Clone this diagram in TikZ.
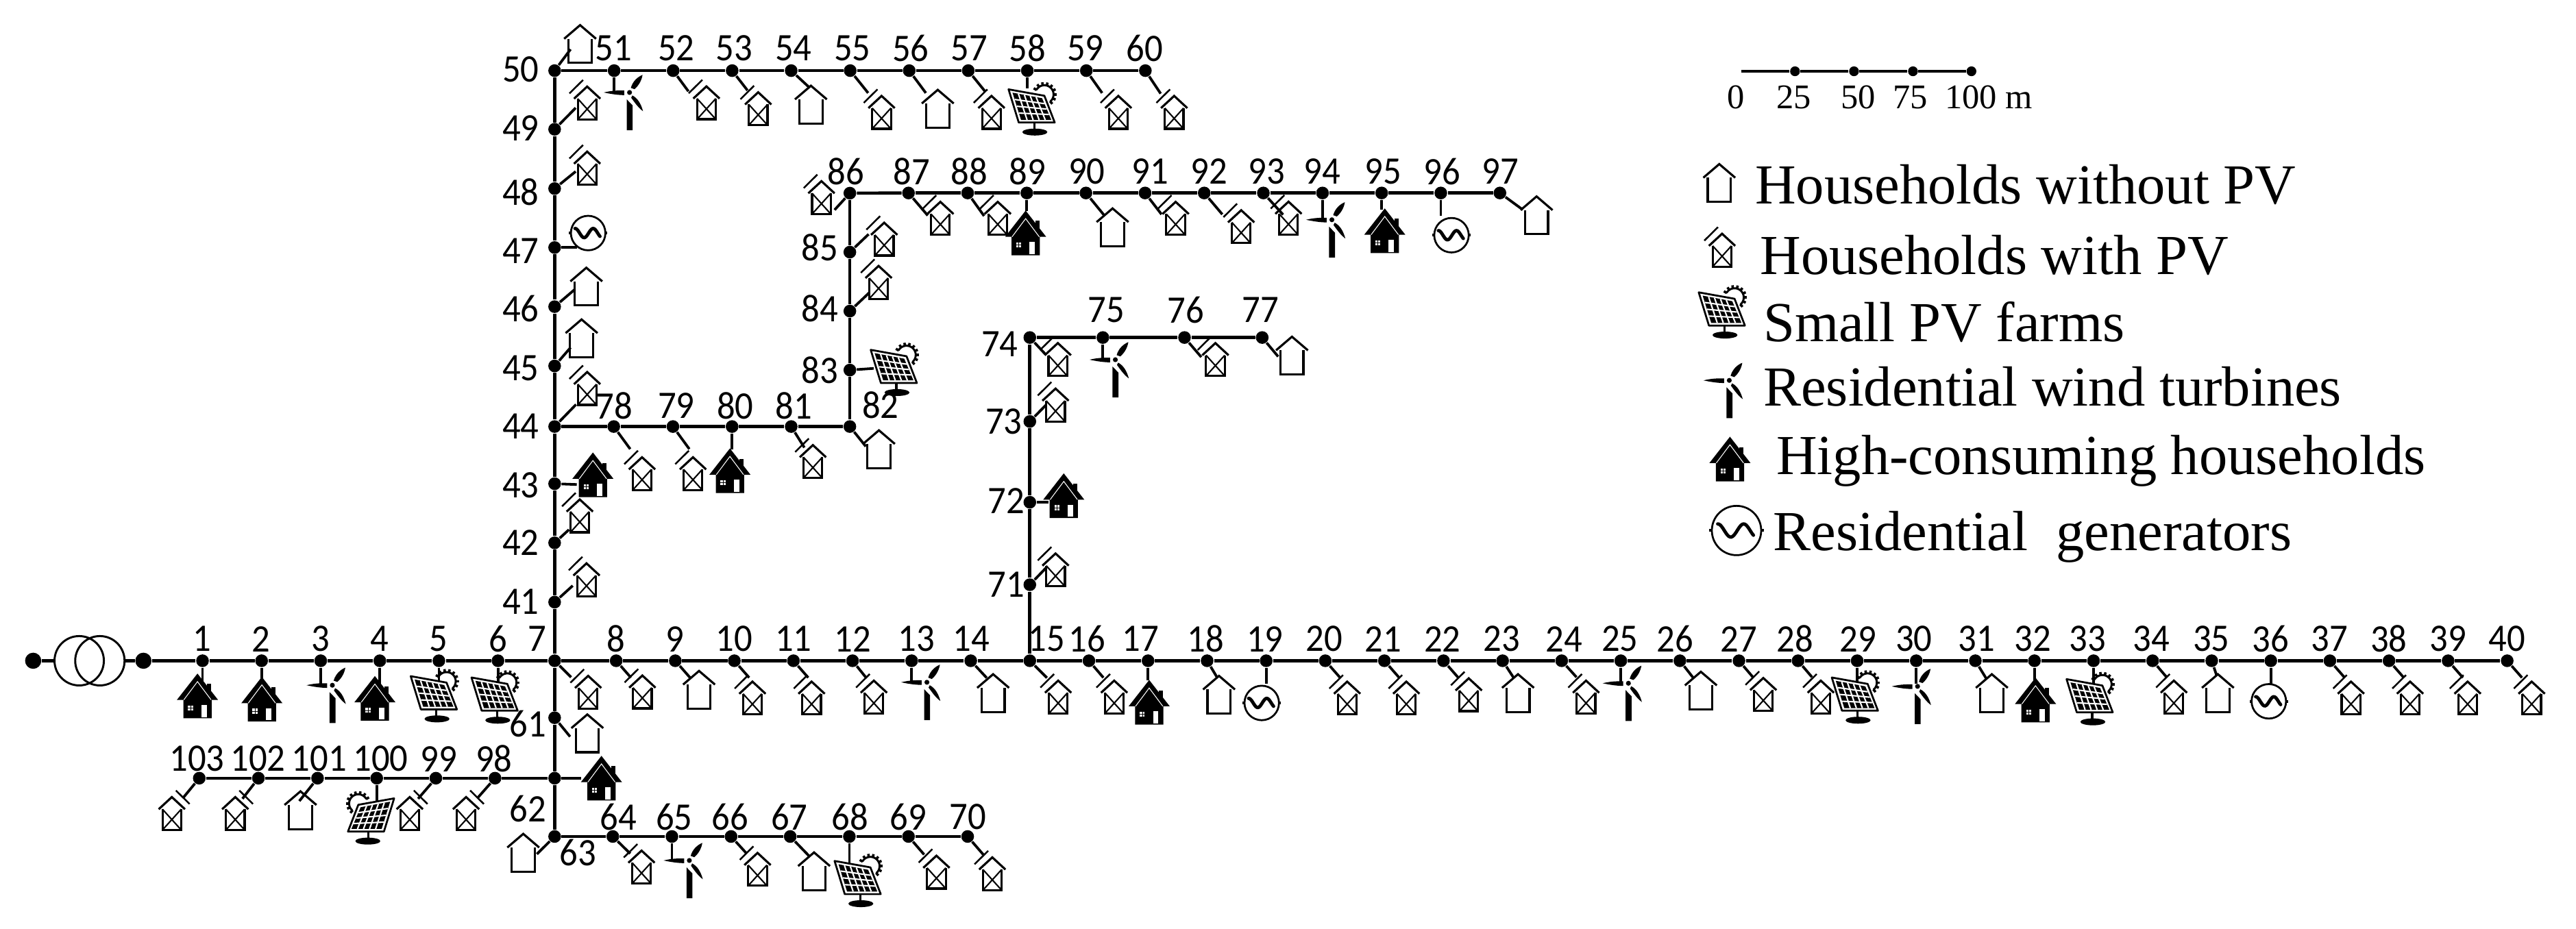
\documentclass[tikz,border=0pt]{standalone}
\usepackage{fontspec}
\usepackage{tikz}
\usetikzlibrary{calc}
\setmainfont{Liberation Serif}
\newfontfamily\busfont{Carlito}
\tikzset{
    homeline/.style={line width=.75pt,line join=miter},
    nopvhome/.pic={
        \draw[homeline] (-9.7,-3.2) -- (0,-11.5) -- (9.7,-3.2);
        \draw[homeline] (-7,-3.2) -- (-7,11.5) -- (7,11.5) -- (7,-3.2);
    },
    pvhome/.pic={
        \draw[homeline] (-8,-2.6) -- (0,-10) -- (8,-2.6);
        \draw[homeline] (-5.7,-2.6) -- (-5.7,10) -- (5.7,10) -- (5.7,-2.6);
        \draw[line width=.5pt] (-5.7,-2.6) -- (5.7,10) (5.7,-2.6) -- (-5.7,10);
        \draw[line width=.6pt] (-10.8,-5.8) -- (-2.5,-14);
    },
    pvhomemir/.pic={\pic[xscale=-1] {pvhome};},
    highhome/.pic={
        \fill (5.8,-7.3) rectangle (8.3,0);
        \fill (0,-13.6) -- (12.5,2.4) -- (8.6,2.4) -- (8.6,13.6) -- (-8.6,13.6) -- (-8.6,2.4) -- (-12.5,2.4) -- cycle;
        \draw[white,line width=.25pt] (-8.3,2.4) -- (0,-8.7) -- (8.3,2.4);
        \fill[white] (2.4,5.5) rectangle (5.6,12.9);
        \fill[white] (-5.7,5.8) rectangle (-2.7,8.8);
        \draw[line width=.15pt] (-4.2,5.8) -- (-4.2,8.8) (-5.7,7.3) -- (-2.7,7.3);
    },
    pvfarm/.pic={
        \begin{scope}[shift={(6.8,-8.9)}]
            \draw[line width=.7pt] plot[domain=-150:50,samples=20] (\x:5.6);
            \foreach \a in {-150,-125,...,50} \draw[line width=.85pt] (\a:5.4) -- (\a:7.5);
        \end{scope}
        \draw[line width=.65pt,fill=white,line join=round] (-15,-12) -- (6.8,-8.1) -- (13.1,8.2) -- (-8.8,8.2) -- cycle;
        \coordinate (tl) at (-12.6,-10);
        \coordinate (tr) at (5.4,-6.6);
        \coordinate (br) at (11,6.6);
        \coordinate (bl) at (-7.4,6.6);
        \fill (tl) -- (tr) -- (br) -- (bl) -- cycle;
        \foreach \u in {.2,.4,.6,.8} \draw[white,line width=.5pt] ($(tl)!\u!(tr)$) -- ($(bl)!\u!(br)$);
        \foreach \u in {.25,.5,.75} \draw[white,line width=.5pt] ($(tl)!\u!(bl)$) -- ($(tr)!\u!(br)$);
        \draw[line width=.75pt] (.6,8.2) -- (.6,13);
        \fill (1,14) ellipse [x radius=7.6,y radius=2.1];
    },
    pvfarmmir/.pic={\pic[xscale=-1] {pvfarm};},
    turbine/.pic={
        \fill (-15.7,0) .. controls (-10,-1.4) and (-6,-1.2) .. (-3.2,-1.2) -- (-3.2,1.6) .. controls (-7,1.6) and (-11,1) .. (-15.7,0) -- cycle;
        \fill (.8,-2.8) .. controls (2,-7) and (5,-9.5) .. (7.9,-10.7) .. controls (7.5,-8) and (6,-4.5) .. (3,-2) -- cycle;
        \fill (1.7,1.8) .. controls (5,3.5) and (7,7) .. (8.2,11.4) .. controls (5.5,9.5) and (3,6) .. (1,3.2) -- cycle;
        \fill (-1.7,4.2) -- (1.9,7.9) -- (1.9,23) -- (-1.7,23) -- cycle;
        \fill (0,0) circle [radius=1.5];
    },
    genset/.pic={
        \draw[line width=.65pt] (0,0) circle [radius=10.5];
        \draw[line width=.9pt] (-11.6,0) -- (-10.4,0) (10.4,0) -- (11.6,0);
        \draw[line width=1.15pt,line cap=round] plot[domain=-8:7.2,samples=30,smooth] (\x,{2.8*sin(360*(\x+5.2)/11)});
    }
}

\begin{document}
\begin{tikzpicture}[
        x=.02cm,y=-.02cm,
        bus/.style={circle,fill=black,inner sep=0pt,minimum size=4.4pt},
        bigbus/.style={circle,fill=black,inner sep=0pt,minimum size=5.6pt},
        scaledot/.style={circle,fill=black,inner sep=0pt,minimum size=3.4pt},
        winding/.style={circle,draw,line width=.7pt,inner sep=0pt,minimum size=17.1pt},
        feeder/.style={line width=1.1pt},
        stub/.style={line width=.9pt},
        tag/.style={font=\busfont\fontsize{12.5}{12.5}\selectfont,inner sep=0pt,transform shape,yscale=1.08},
        scaletag/.style={font=\fontsize{12}{12}\selectfont,inner sep=0pt,anchor=base},
        legendtext/.style={font=\fontsize{19.6}{20}\selectfont,inner sep=0pt,anchor=base west}
    ]
    \useasboundingbox (0,0) rectangle (1568,565.6);
    \node[winding] (wl) at (48.2,402.3) {};
    \node[winding] (wr) at (60.8,402.3) {};
    \node[bigbus] (src) at (20.2,402.3) {};
    \node[bigbus] (b0) at (87.3,402.3) {};
    \draw[feeder] (src) -- (wl.west);
    \draw[feeder] (wr.east) -- (b0);
    \foreach \i in {1,...,6,8,9,...,40} \node[bus] (b\i) at ({87.3+35.97*\i},402.3) {};
    \node[bus] (b7) at (337.6,402.3) {};
    \foreach \i/\y in {41/366.6,42/330.5,43/294.5,44/259.7,45/222.8,46/186.7,47/150.7,48/114.8,49/78.7,50/43} \node[bus] (b\i) at (337.6,\y) {};
    \foreach \i in {51,...,60} \node[bus] (b\i) at ({373.8+35.93*(\i-51)},43) {};
    \foreach \i in {78,...,81} \node[bus] (b\i) at ({373.6+36*(\i-78)},259.7) {};
    \node[bus] (b82) at (517.3,259.7) {};
    \foreach \i in {83,...,86} \node[bus] (b\i) at (517.3,{225.3-35.9*(\i-83)}) {};
    \foreach \i in {87,...,97} \node[bus] (b\i) at ({553+36*(\i-87)},117.5) {};
    \foreach \i/\y in {71/356,72/305.8,73/256.6,74/205.5} \node[bus] (b\i) at (626.85,\y) {};
    \foreach \i/\x in {75/671.3,76/721,77/768.3} \node[bus] (b\i) at (\x,205.5) {};
    \foreach \i/\y in {61/437,62/473.8,63/509.3} \node[bus] (b\i) at (337.6,\y) {};
    \foreach \i in {98,...,103} \node[bus] (b\i) at ({301.3-36*(\i-98)},473.8) {};
    \foreach \i in {64,...,70} \node[bus] (b\i) at ({373+36*(\i-64)},509.3) {};
    \foreach \from/\first/\last in {0/1/40,7/41/50,50/51/60,44/78/82,82/83/86,86/87/97,15/71/74,74/75/77,7/61/63,62/98/103,63/64/70}{
        \draw[feeder] (b\from) -- (b\first);
        \foreach \i in {\first,...,\last}{
            \ifnum\i<\last
                \pgfmathtruncatemacro\nxt{\i+1}
                \draw[feeder] (b\i) -- (b\nxt);
            \fi
        }
    }
    \foreach \n/\x/\y in {1/123/389,2/159/389,3/195/389,4/231/389,5/267/389,6/303/389,7/327/389,8/375/389,9/411/389,10/447/389,11/483/389,12/519/389,13/557.9/389,14/591.3/389,15/637/389,16/661.6/389,17/694.3/389,18/734/389,19/770/389,20/806/389,
        21/842/389,22/878/389,23/914/389,24/952/389,25/986/389,26/1019.6/389,27/1058.5/389,28/1092.6/389,29/1130.9/389,30/1165/389,31/1203/389,32/1237.2/389,33/1270.6/389,34/1309.5/389,35/1346/389,36/1382/389,37/1418/389,38/1454/389,39/1490/389,40/1526/389,
        41/317/366.3,42/317/330.5,43/317/295.4,44/317/259.5,45/317/224,46/317/187.9,47/317/152.6,48/317/116.8,49/317/77.9,50/317/42.4,
        51/373.5/29.5,52/411.7/29.5,53/447/29.5,54/483/29.5,55/518.9/29.5,56/554.3/29.5,57/589.9/29.5,58/625.4/29.5,59/660.7/29.5,60/696.6/29.5,
        61/321.4/440.8,62/321.4/492.6,63/351.8/519,64/376.5/497.5,65/410.4/497.5,66/444.3/497.5,67/480.5/497.5,68/517.3/497.5,69/552.8/497.5,70/589/497.5,
        71/612.5/356,72/612.5/305,73/611/256.6,74/608.5/209.6,75/673.3/188.6,76/721.7/188.6,77/767.2/188.6,
        78/374/247,79/411.6/247,80/447.5/247,81/483.2/247,82/536/246.8,83/499/225.3,84/499/188,85/499/150.9,
        86/515/104.3,87/554.8/104.3,88/589.9/104.3,89/625.4/104.3,90/661.5/104.3,91/700/104.3,92/736/104.3,93/771.1/104.3,94/804.8/104.3,95/842/104.3,96/877.8/104.3,97/913.2/104.3,
        98/300.7/462,99/267/462,100/231.7/462,101/194.3/462,102/157.1/462,103/119.9/462}
        \node[tag] (t\n) at (\x,\y) {\n};
    \foreach \n/\kind/\x/\y/\ex/\ey in {
        1/highhome/120.2/423.7/0/15,2/highhome/159.4/425.7/0/15,3/turbine/202.3/417.2/0/15,4/highhome/228.2/425.2/0/15,5/pvfarm/265/423.7/0/15,6/pvfarm/302/424.5/0/15,
        7/pvhome/358/421.5/10/10,8/pvhome/391/421.3/9/10.3,9/nopvhome/425.5/420/9/10.3,10/pvhome/458/425/9/10.3,11/pvhome/494/425/9/10.3,12/pvhome/531.9/424.4/8/10,
        13/turbine/564.2/415.4/0/13,14/nopvhome/604.5/422/9.7/10.4,15/pvhome/644.1/424.4/10.4/10.4,16/pvhome/678.2/424.4/8.8/10.3,17/highhome/699.5/427.6/0/12,18/nopvhome/742/423/6/10,19/genset/768/428/0/14,
        20/pvhome/820/425/9/10.3,21/pvhome/856/425/9/10.3,22/pvhome/894/423/9/10.3,23/nopvhome/924/422/6.5/10,24/pvhome/965.4/424.4/9/10,25/turbine/991.2/416/0/14,26/nopvhome/1035.3/420.5/8.3/10.6,
        27/pvhome/1073.3/422.8/8.5/10,28/pvhome/1108.3/424.4/8.5/10,29/pvfarm/1130/424.5/0/14,30/turbine/1167.2/417.9/0/14,31/nopvhome/1212.4/422/6.5/10.6,32/highhome/1239/426.2/0/12,33/pvfarm/1272.9/425.5/0/14,
        34/pvhome/1323.2/424.4/8.5/10,35/nopvhome/1350/422/3/9,36/genset/1381/427/0/14,37/pvhome/1431/425/9/10.3,38/pvhome/1467/425/9/10.3,39/pvhome/1502/425/9/10.3,40/pvhome/1541/425/9/10.3,
        41/pvhome/357/353/11/-10,42/pvhome/352.9/314.1/8.7/-8,43/highhome/360.9/289.1/13.5/.5,44/pvhome/357.4/236.5/13/-13.4,45/nopvhome/354/206/9.7/-11.2,46/nopvhome/356.9/174.5/12.4/-10.6,47/genset/358/141.9/13.8/0,48/pvhome/357.4/102.3/12.8/-10.4,49/pvhome/357.4/62.7/12.8/-13,50/nopvhome/353.1/26.8/9.7/-13,
        51/turbine/383.2/56.3/0/13,52/pvhome/430/62.6/9.3/12.6,53/pvhome/461.5/66.2/9.3/12,54/nopvhome/493.6/63.7/11.2/10.4,55/pvhome/536.6/68.4/10.9/13.6,56/nopvhome/570.8/66.2/10.1/13.6,57/pvhome/603.5/68.4/10.1/12.5,58/pvfarm/628.9/66.4/0/11,59/pvhome/680.7/68.4/9.6/13.6,60/pvhome/714.7/68.4/9.3/14,
        61/nopvhome/357.5/446.5/9.4/11.5,62/highhome/366.1/473.8/16.2/0,63/nopvhome/318.5/519.2/-10.8/10.7,
        64/pvhome/390.5/527.9/10.6/10.4,65/turbine/419.6/523.9/0/14,66/pvhome/461.1/529.3/9.5/10.4,67/nopvhome/495.5/530.5/11.8/12.2,68/pvfarm/523/536.2/0/16.7,69/pvhome/570/531/9.5/11,70/pvhome/604/532/9.5/11,
        71/pvhome/642.5/347/10/-10.4,72/highhome/647.5/301.8/11.4/0,73/pvhome/642.5/246.6/10/-10.2,74/pvhome/643.9/218.9/9.3/10,75/turbine/678.9/219/0/14,76/pvhome/739.8/218.9/10.2/11.9,77/nopvhome/786.4/216.5/9.7/11.6,
        78/pvhome/390.8/288.4/10/13.7,79/pvhome/421.8/288.4/10/13.7,80/highhome/444.3/286.6/0/14,81/pvhome/494.8/281/8/12.8,82/nopvhome/535/273.5/9.7/12.1,83/pvfarm/545/225/14.5/-1,84/pvhome/534.8/171.9/11.7/-11.1,85/pvhome/538.2/145.6/11.4/-10.9,86/pvhome/500/120.3/-9.3/10.2,
        87/pvhome/572.4/132.9/11.7/13.7,88/pvhome/607.3/132.9/10/14,89/highhome/624.3/141.8/0/11,90/nopvhome/677.2/138.4/11.2/13.7,91/pvhome/715.6/132.9/10/13,92/pvhome/755.5/138/11/13,93/pvhome/784.3/132.8/12/13.2,94/turbine/810.7/133.8/0/16,95/highhome/842.9/140.5/0/10,96/genset/883.5/143.2/0/14,97/nopvhome/935.3/131.1/13.9/10.2,
        98/pvhomemir/283.7/495.3/-10.4/11.8,99/pvhomemir/249.4/495.3/-10.8/12.5,100/pvfarmmir/224.9/498.1/0/14.6,101/nopvhome/182.9/493.3/-11.1/13.9,102/pvhomemir/143.2/495.3/-9.7/12.5,103/pvhomemir/104.6/495.3/-9.7/11.8}{
        \coordinate (e\n) at ($(b\n)+(\ex,\ey)$);
        \draw[stub] (b\n) -- (e\n);
        \pic (load\n) at (\x,\y) {\kind};
    }
    \coordinate (sc0) at (1060,43.4);
    \foreach \i/\x in {25/1092.6,50/1128.5,75/1164.4,100/1200} \node[scaledot] (sc\i) at (\x,43.4) {};
    \draw[feeder] (sc0) -- (sc25);
    \draw[feeder] (sc25) -- (sc50);
    \draw[feeder] (sc50) -- (sc75);
    \draw[feeder] (sc75) -- (sc100);
    \foreach \n/\x in {0/1056.8,25/1091.8,50/1131,75/1162.8} \node[scaletag] (st\n) at (\x,66) {\n};
    \node[scaletag,anchor=base west] (st100) at (1183.6,66) {100 m};
    \pic (keynopv) at (1046.5,111.4) {nopvhome};
    \pic (keypv) at (1048.2,152.3) {pvhome};
    \pic (keyfarm) at (1049,190) {pvfarm};
    \pic (keywind) at (1052.6,231.6) {turbine};
    \pic (keyhigh) at (1053,279.5) {highhome};
    \pic[scale=1.43] (keygen) at (1057,323) {genset};
    \node[legendtext] (lg1) at (1068,124) {Households without PV};
    \node[legendtext] (lg2) at (1071,167) {Households with PV};
    \node[legendtext] (lg3) at (1073,208) {Small PV farms};
    \node[legendtext] (lg4) at (1073,247) {Residential wind turbines};
    \node[legendtext] (lg5) at (1081,289) {High-consuming households};
    \node[legendtext] (lg6) at (1079,335) {Residential\ \ generators};
\end{tikzpicture}
\end{document}
